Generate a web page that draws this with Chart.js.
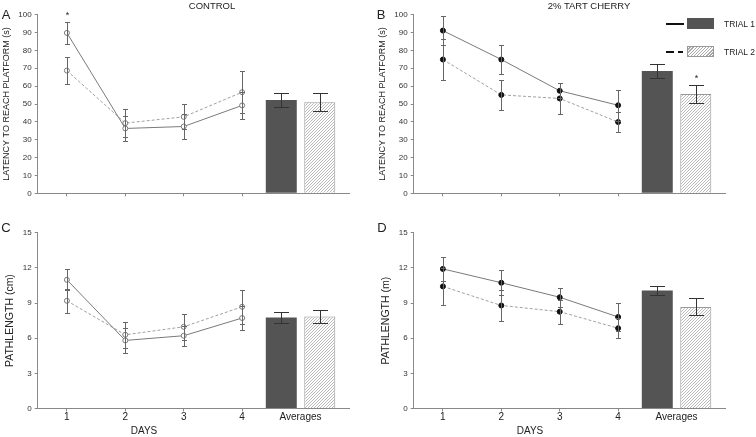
<!DOCTYPE html>
<html>
<head>
<meta charset="utf-8">
<script src="https://cdn.jsdelivr.net/npm/chart.js@4.4.1/dist/chart.umd.min.js"></script>
<style>
  body { margin: 0; background: #fff; font-family: Arial, "Liberation Sans", sans-serif; }
  #wrap { position: relative; width: 756px; height: 437px; overflow: hidden; }
  canvas { position: absolute; }
  .txt { position: absolute; color: #222; white-space: nowrap; line-height: 1; transform: translate(-50%, -50%); }
  .lbl { position: absolute; color: #222; white-space: nowrap; line-height: 1; transform: translateY(-50%); }
  .blk { position: absolute; }
</style>
</head>
<body>
<div id="wrap">
  <canvas id="chartA" width="376" height="218" style="left:0;top:0"></canvas>
  <canvas id="chartB" width="376" height="218" style="left:376px;top:0"></canvas>
  <canvas id="chartC" width="376" height="219" style="left:0;top:218px"></canvas>
  <canvas id="chartD" width="376" height="219" style="left:376px;top:218px"></canvas>

  <div class="txt" style="left:6px;top:14px;font-size:13px">A</div>
  <div class="txt" style="left:381px;top:14px;font-size:13px">B</div>
  <div class="txt" style="left:6px;top:227px;font-size:13px">C</div>
  <div class="txt" style="left:382px;top:227px;font-size:13px">D</div>

  <div class="txt" style="left:212px;top:6px;font-size:9.5px">CONTROL</div>
  <div class="txt" style="left:589px;top:6px;font-size:9.5px">2% TART CHERRY</div>

  <div class="txt" style="left:144px;top:431px;font-size:10px">DAYS</div>
  <div class="txt" style="left:530px;top:431px;font-size:10px">DAYS</div>

  <!-- legend -->
  <div class="blk" style="left:666px;top:23px;width:18px;height:2px;background:#111"></div>
  <div class="blk" style="left:687px;top:18px;width:27px;height:11px;background:#545454"></div>
  <div class="lbl" style="left:724px;top:24px;font-size:8.5px">TRIAL 1</div>
  <div class="blk" style="left:666px;top:51px;width:8px;height:2px;background:#111"></div>
  <div class="blk" style="left:678px;top:51px;width:5px;height:2px;background:#111"></div>
  <div class="blk" style="left:687px;top:46px;width:25px;height:9px;border:1px solid #999;background:repeating-linear-gradient(135deg,#fff 0 1.3px,#a8a8a8 1.3px 2.2px)"></div>
  <div class="lbl" style="left:724px;top:52px;font-size:8.5px">TRIAL 2</div>
</div>

<script>
const days = [1, 2, 3, 4];
const avgPos = 5;

// A: control, latency (s)
const ctlLatT1 = [89.8, 36.3, 37.4, 49.2];
const ctlLatT1Err = [6.0, 7.1, 6.9, 7.5];
const ctlLatT2 = [68.7, 39.3, 42.8, 56.6];
const ctlLatT2Err = [7.5, 8.0, 7.0, 11.6];
const ctlLatAvg = [52.3, 51.0];
const ctlLatAvgErr = [3.8, 5.0];

// B: 2% tart cherry, latency (s)
const tcLatT1 = [91.1, 74.9, 57.4, 49.3];
const tcLatT1Err = [8.2, 8.3, 4.1, 8.6];
const tcLatT2 = [74.9, 55.1, 53.1, 39.9];
const tcLatT2Err = [11.5, 8.4, 8.6, 5.4];
const tcLatAvg = [68.5, 55.6];
const tcLatAvgErr = [4.0, 5.3];

// C: control, pathlength (cm)
const ctlPathT1 = [10.98, 5.81, 6.21, 7.72];
const ctlPathT1Err = [0.9, 1.05, 0.87, 1.06];
const ctlPathT2 = [9.19, 6.29, 6.97, 8.68];
const ctlPathT2Err = [1.0, 1.12, 1.12, 1.43];
const ctlPathAvg = [7.76, 7.84];
const ctlPathAvgErr = [0.5, 0.53];

// D: 2% tart cherry, pathlength (m)
const tcPathT1 = [11.91, 10.73, 9.49, 7.81];
const tcPathT1Err = [1.0, 1.07, 0.82, 1.23];
const tcPathT2 = [10.42, 8.79, 8.26, 6.85];
const tcPathT2Err = [1.6, 1.35, 1.04, 0.84];
const tcPathAvg = [10.06, 8.67];
const tcPathAvgErr = [0.38, 0.72];

const latTicks = { min: 0, max: 100, step: 10 };
const pathTicks = { min: 0, max: 15, step: 3 };

Chart.defaults.font.family = 'Arial, "Liberation Sans", sans-serif';
Chart.defaults.color = '#222';

function hatchPattern() {
  const c = document.createElement('canvas');
  c.width = 3; c.height = 3;
  const g = c.getContext('2d');
  g.fillStyle = '#fff';
  g.fillRect(0, 0, 3, 3);
  g.strokeStyle = '#a8a8a8';
  g.lineWidth = 0.8;
  g.beginPath();
  g.moveTo(0, 3); g.lineTo(3, 0);
  g.moveTo(-1, 1); g.lineTo(1, -1);
  g.moveTo(2, 4); g.lineTo(4, 2);
  g.stroke();
  return g.createPattern(c, 'repeat');
}

// error bars + significance stars, drawn from the dataset values
const errorBars = {
  id: 'errorBars',
  afterDatasetsDraw(chart, args, opts) {
    const ctx = chart.ctx;
    const ys = chart.scales.y;
    ctx.save();
    (opts.sets || []).forEach(s => {
      const meta = chart.getDatasetMeta(s.ds);
      const data = chart.data.datasets[s.ds].data;
      ctx.strokeStyle = s.color;
      ctx.lineWidth = 1;
      meta.data.forEach((el, i) => {
        const v = data[i].y, e = s.err[i];
        const x = Math.round(el.x) + 0.5;
        const yt = Math.round(ys.getPixelForValue(v + e)) + 0.5;
        const yb = Math.round(ys.getPixelForValue(v - e)) + 0.5;
        ctx.beginPath();
        ctx.moveTo(x, yt); ctx.lineTo(x, yb);
        ctx.moveTo(x - s.cap, yt); ctx.lineTo(x + s.cap, yt);
        ctx.moveTo(x - s.cap, yb); ctx.lineTo(x + s.cap, yb);
        ctx.stroke();
        if (s.star && s.star.includes(i)) {
          ctx.fillStyle = '#222';
          ctx.font = '9px Arial';
          ctx.textAlign = 'center';
          ctx.textBaseline = 'bottom';
          ctx.fillText('*', x, yt - 2);
        }
      });
    });
    ctx.restore();
  }
};

function makePanel(id, p) {
  const pts = vals => days.map((d, i) => ({ x: d, y: vals[i] }));
  const open = p.openMarkers;
  const markerFill = open ? '#fff' : '#111';
  const markerLine = open ? '#777' : '#111';
  const axisCol = '#888';
  new Chart(document.getElementById(id), {
    type: 'line',
    data: {
      datasets: [
        {
          type: 'line', data: pts(p.t1), borderColor: '#7a7a7a', borderWidth: 1,
          pointRadius: 2.5, pointBackgroundColor: markerFill, pointBorderColor: markerLine,
          pointBorderWidth: 1, tension: 0
        },
        {
          type: 'line', data: pts(p.t2), borderColor: '#a0a0a0', borderWidth: 1, borderDash: [3, 2],
          pointRadius: 2.5, pointBackgroundColor: markerFill, pointBorderColor: markerLine,
          pointBorderWidth: 1, tension: 0
        },
        {
          type: 'bar', data: [{ x: avgPos, y: p.avg[0] }], backgroundColor: '#545454',
          borderWidth: 0, categoryPercentage: 1.318, barPercentage: 0.805
        },
        {
          type: 'bar', data: [{ x: avgPos, y: p.avg[1] }], backgroundColor: hatchPattern(),
          borderColor: '#999', borderWidth: 1, categoryPercentage: 1.318, barPercentage: 0.805
        }
      ]
    },
    options: {
      responsive: false,
      animation: false,
      devicePixelRatio: 1,
      layout: { padding: { top: 14.7, right: 27, left: 0, bottom: 0 } },
      plugins: {
        legend: { display: false },
        tooltip: { enabled: false },
        errorBars: {
          sets: [
            { ds: 0, err: p.t1Err, cap: 2.5, color: '#666', star: p.star1 },
            { ds: 1, err: p.t2Err, cap: 2.5, color: '#666' },
            { ds: 2, err: [p.avgErr[0]], cap: 7.5, color: '#333' },
            { ds: 3, err: [p.avgErr[1]], cap: 7.5, color: '#333', star: p.starAvg2 }
          ]
        }
      },
      scales: {
        x: {
          type: 'linear', min: 0.5, max: 5.83, offset: false,
          afterBuildTicks: s => { s.ticks = days.concat([avgPos]).map(v => ({ value: v })); },
          afterFit: s => { s.height = p.xHeight; },
          ticks: {
            display: p.showX, autoSkip: false, maxRotation: 0, padding: 0,
            font: { size: 10 }, color: '#222',
            callback: v => v === avgPos ? 'Averages' : String(v)
          },
          grid: {
            drawOnChartArea: false, drawTicks: true, tickLength: 3, offset: false,
            color: c => (c.tick && c.tick.value === avgPos) ? 'rgba(0,0,0,0)' : axisCol
          },
          border: { color: axisCol }
        },
        y: {
          min: p.range.min, max: p.range.max,
          afterFit: s => { s.width = 37.7; },
          ticks: { stepSize: p.range.step, font: { size: 8 }, color: '#333', padding: 3 },
          grid: { drawOnChartArea: false, tickLength: 3, color: axisCol },
          border: { color: axisCol },
          title: {
            display: true, text: p.yTitle, color: '#222',
            font: { size: p.yTitleSize }, padding: { top: p.yTitlePad, bottom: 0 }
          }
        }
      }
    },
    plugins: [errorBars]
  });
}

makePanel('chartA', {
  t1: ctlLatT1, t1Err: ctlLatT1Err, t2: ctlLatT2, t2Err: ctlLatT2Err,
  avg: ctlLatAvg, avgErr: ctlLatAvgErr, range: latTicks, openMarkers: true,
  yTitle: 'LATENCY TO REACH PLATFORM (s)', yTitleSize: 9, yTitlePad: 1.6,
  showX: false, xHeight: 24.7, star1: [0]
});
makePanel('chartB', {
  t1: tcLatT1, t1Err: tcLatT1Err, t2: tcLatT2, t2Err: tcLatT2Err,
  avg: tcLatAvg, avgErr: tcLatAvgErr, range: latTicks, openMarkers: false,
  yTitle: 'LATENCY TO REACH PLATFORM (s)', yTitleSize: 9, yTitlePad: 1.6,
  showX: false, xHeight: 24.7, starAvg2: [0]
});
makePanel('chartC', {
  t1: ctlPathT1, t1Err: ctlPathT1Err, t2: ctlPathT2, t2Err: ctlPathT2Err,
  avg: ctlPathAvg, avgErr: ctlPathAvgErr, range: pathTicks, openMarkers: true,
  yTitle: 'PATHLENGTH (cm)', yTitleSize: 10.5, yTitlePad: 3.5,
  showX: true, xHeight: 28.5
});
makePanel('chartD', {
  t1: tcPathT1, t1Err: tcPathT1Err, t2: tcPathT2, t2Err: tcPathT2Err,
  avg: tcPathAvg, avgErr: tcPathAvgErr, range: pathTicks, openMarkers: false,
  yTitle: 'PATHLENGTH (m)', yTitleSize: 10.5, yTitlePad: 3.5,
  showX: true, xHeight: 28.5
});
</script>
</body>
</html>
